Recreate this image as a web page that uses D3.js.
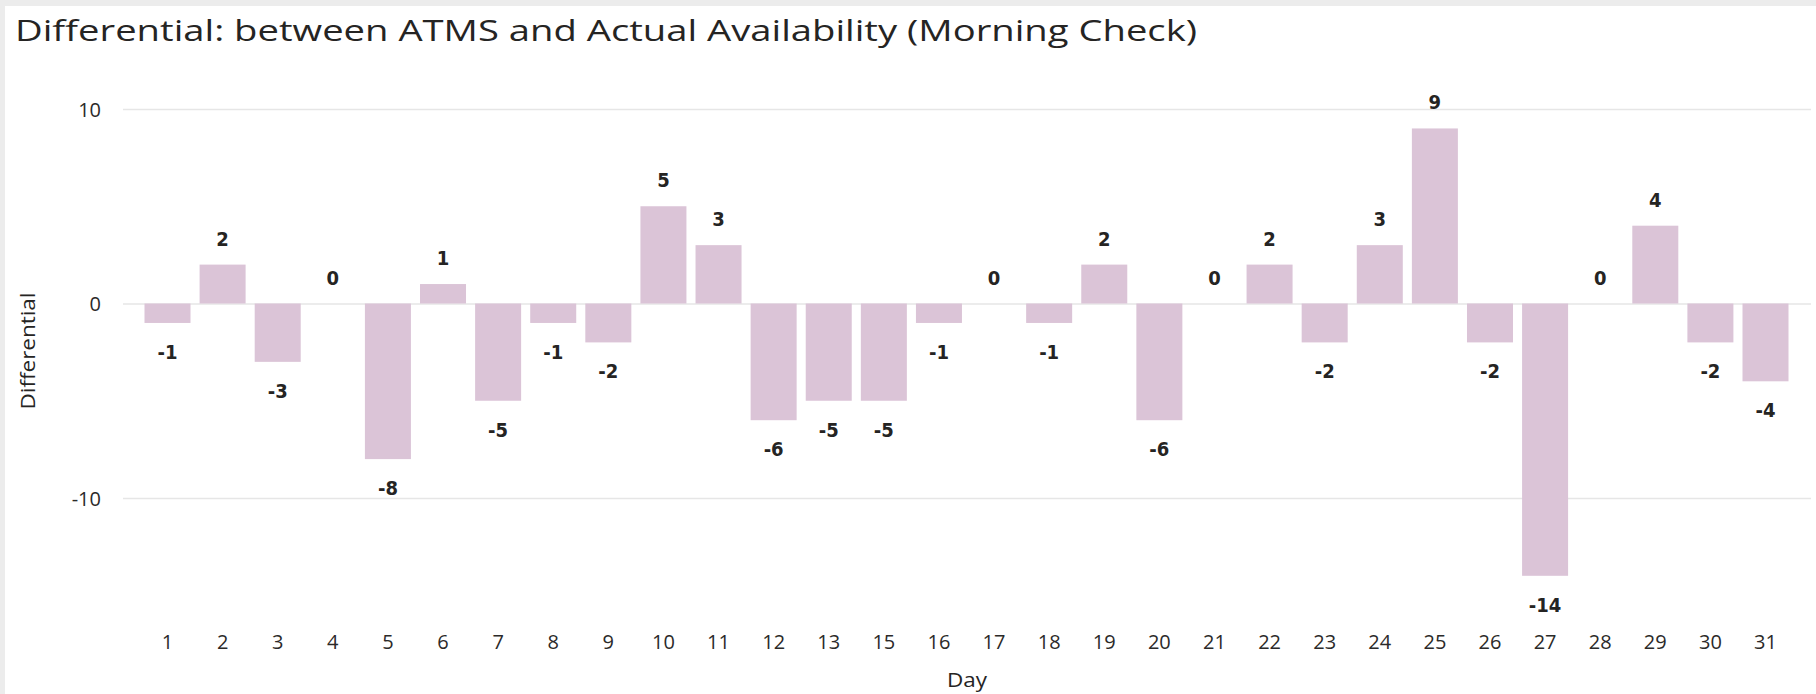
<!DOCTYPE html>
<html>
<head>
    <meta charset="utf-8">
    <title>Differential: between ATMS and Actual Availability (Morning Check)</title>
    <script src="https://cdnjs.cloudflare.com/ajax/libs/d3/7.8.5/d3.min.js"></script>
    <style>
        body {
            margin: 0;
            background-color: #ececec;
            overflow: hidden;
        }
        svg {
            display: block;
        }
        .title {
            font-family: "Open Sans", "Noto Sans", sans-serif;
            font-size: 29px;
            fill: #252423;
        }
        .tick text {
            font-family: "Open Sans", "Noto Sans", sans-serif;
            font-size: 20px;
            fill: #2b2a29;
        }
        .axis-title {
            font-family: "Open Sans", "Noto Sans", sans-serif;
            font-size: 20px;
            fill: #252423;
        }
        .value-label {
            font-family: "Liberation Sans Narrow", "DejaVu Sans Condensed", Roboto, sans-serif;
            font-size: 20px;
            font-weight: bold;
            fill: #252423;
        }
    </style>
</head>
<body>
    <div id="chart"></div>

    <script>
        // Data: day 14 has no record
        const days = ["1", "2", "3", "4", "5", "6", "7", "8", "9", "10",
                      "11", "12", "13", "15", "16", "17", "18", "19", "20", "21",
                      "22", "23", "24", "25", "26", "27", "28", "29", "30", "31"];
        const differential = [-1, 2, -3, 0, -8, 1, -5, -1, -2, 5,
                              3, -6, -5, -5, -1, 0, -1, 2, -6, 0,
                              2, -2, 3, 9, -2, -14, 0, 4, -2, -4];
        const yTicks = [-10, 0, 10];

        const width = 1816;
        const height = 694;

        const svg = d3.select("#chart")
            .append("svg")
            .attr("width", width)
            .attr("height", height);

        // white card
        svg.append("rect")
            .attr("x", 5)
            .attr("y", 6)
            .attr("width", width - 5)
            .attr("height", height - 6)
            .attr("fill", "#ffffff");

        svg.append("text")
            .attr("class", "title")
            .attr("x", 15)
            .attr("y", 41)
            .attr("textLength", 1182)
            .attr("lengthAdjust", "spacingAndGlyphs")
            .text("Differential: between ATMS and Actual Availability (Morning Check)");

        const x = d3.scaleBand()
            .domain(days)
            .range([123, 1810])
            .paddingInner(0.165)
            .paddingOuter(0.39);

        const y = d3.scaleLinear()
            .domain([-15, 11])
            .range([303.5 + 15 * 19.45, 303.5 - 11 * 19.45]);

        // gridlines + y tick labels
        const yAxis = d3.axisLeft(y)
            .tickValues(yTicks)
            .tickSize(-(1811 - 123))
            .tickPadding(22)
            .tickFormat(d => String(d));

        svg.append("g")
            .attr("transform", "translate(123,0)")
            .call(yAxis)
            .call(g => g.select(".domain").remove())
            .call(g => g.selectAll(".tick line")
                .attr("stroke", "#e6e6e6")
                .attr("stroke-width", 1.5))
            .call(g => g.selectAll(".tick text")
                .attr("dy", "0.35em"));

        // bars
        svg.append("g")
            .selectAll("rect")
            .data(differential)
            .enter()
            .append("rect")
            .attr("x", (d, i) => x(days[i]))
            .attr("width", x.bandwidth())
            .attr("y", d => y(Math.max(0, d)))
            .attr("height", d => Math.abs(y(d) - y(0)))
            .attr("fill", "#dbc4d7");

        // value labels
        svg.append("g")
            .selectAll("text")
            .data(differential)
            .enter()
            .append("text")
            .attr("class", "value-label")
            .attr("text-anchor", "middle")
            .attr("dominant-baseline", "central")
            .attr("x", (d, i) => x(days[i]) + x.bandwidth() / 2)
            .attr("y", d => d >= 0 ? y(d) - 26 : y(d) + 29)
            .text(d => d);

        // x axis (labels only)
        const xAxis = d3.axisBottom(x)
            .tickSize(0)
            .tickPadding(0);

        svg.append("g")
            .attr("transform", "translate(0,642)")
            .call(xAxis)
            .call(g => g.select(".domain").remove())
            .call(g => g.selectAll(".tick text")
                .attr("dy", "0.35em"));

        svg.append("text")
            .attr("class", "axis-title")
            .attr("text-anchor", "middle")
            .attr("x", 967)
            .attr("y", 680)
            .attr("dy", "0.35em")
            .attr("textLength", 40)
            .attr("lengthAdjust", "spacingAndGlyphs")
            .text("Day");

        svg.append("text")
            .attr("class", "axis-title")
            .attr("text-anchor", "middle")
            .attr("transform", "translate(28,351) rotate(-90)")
            .attr("dy", "0.35em")
            .attr("textLength", 117)
            .attr("lengthAdjust", "spacingAndGlyphs")
            .text("Differential");
    </script>
</body>
</html>
